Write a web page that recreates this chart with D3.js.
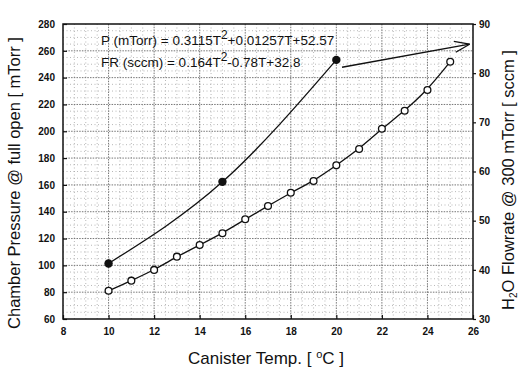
<!DOCTYPE html>
<html>
<head>
<meta charset="utf-8">
<script src="https://cdn.jsdelivr.net/npm/d3@7"></script>
<style>
  body { margin: 0; background: #fff; }
  svg { font-family: "Liberation Sans", Arial, sans-serif; }
  .tick-label { font-size: 10px; font-weight: bold; fill: #111; }
  .title { font-size: 16.5px; fill: #111; }
  .fit-text { font-size: 13.5px; fill: #111; }
</style>
</head>
<body>
<svg id="chart" width="520" height="372"></svg>
<script>
// canister temperature (C) and measured values
var tempFR = [10, 15, 20];
var flowRate = [41.3, 57.9, 82.7];          // sccm, right axis (filled dots)
var tempP = [10, 11, 12, 13, 14, 15, 16, 17, 18, 19, 20, 21, 22, 23, 24, 25];
var pressure = [81.1, 88.6, 96.6, 106.5, 115.2, 124.0, 134.4, 144.3, 154.2, 162.9, 174.6, 186.8, 201.9, 215.3, 230.8, 251.9]; // mTorr, left axis
var xTicks = [8, 10, 12, 14, 16, 18, 20, 22, 24, 26];
var yLeftTicks = [60, 80, 100, 120, 140, 160, 180, 200, 220, 240, 260, 280];
var yRightTicks = [30, 40, 50, 60, 70, 80, 90];
var fitLabels = [
  {pre: "P (mTorr) = 0.3115T", post: "+0.01257T+52.57"},
  {pre: "FR (sccm) = 0.164T", post: "-0.78T+32.8"}
];
// arrow from FR point towards right axis (T, sccm)
var arrowFrom = [20.25, 81.2], arrowTo = [25.85, 85.9];

const svg = d3.select('#chart');
const pLeft = 63, pRight = 473, pTop = 24, pBottom = 319;

const x = d3.scaleLinear().domain([8, 26]).range([pLeft, pRight]);
const yL = d3.scaleLinear().domain([60, 280]).range([pBottom, pTop]);
const yR = d3.scaleLinear().domain([30, 90]).range([pBottom, pTop]);

// dotted grid, minor then major
const grid = svg.append('g');
d3.range(8.5, 26, 0.5).forEach(v => {
  const major = v % 2 === 0;
  grid.append('line')
    .attr('x1', x(v)).attr('x2', x(v)).attr('y1', pTop).attr('y2', pBottom)
    .attr('stroke', major ? '#666' : '#999').attr('stroke-width', major ? 0.9 : 0.7)
    .attr('stroke-dasharray', major ? '1.5,1.2' : '1,2.5');
});
d3.range(65, 280, 5).forEach(v => {
  const major = v % 20 === 0;
  grid.append('line')
    .attr('x1', pLeft).attr('x2', pRight).attr('y1', yL(v)).attr('y2', yL(v))
    .attr('stroke', major ? '#666' : '#999').attr('stroke-width', major ? 0.9 : 0.7)
    .attr('stroke-dasharray', major ? '1.5,1.2' : '1,2.5');
});

// frame
svg.append('rect')
  .attr('x', pLeft).attr('y', pTop)
  .attr('width', pRight - pLeft).attr('height', pBottom - pTop)
  .attr('fill', 'none').attr('stroke', '#111').attr('stroke-width', 1.5);

// axes
svg.append('g')
  .attr('transform', `translate(0, ${pBottom})`)
  .call(d3.axisBottom(x).tickValues(xTicks).tickSize(-4).tickPadding(9).tickFormat(d3.format('d')))
  .call(g => g.select('.domain').remove())
  .call(g => g.selectAll('text').attr('class', 'tick-label'))
  .call(g => g.selectAll('line').attr('stroke', '#111').attr('stroke-width', 1.2));

svg.append('g')
  .attr('transform', `translate(${pLeft}, 0)`)
  .call(d3.axisLeft(yL).tickValues(yLeftTicks).tickSize(-4).tickPadding(8))
  .call(g => g.select('.domain').remove())
  .call(g => g.selectAll('text').attr('class', 'tick-label'))
  .call(g => g.selectAll('line').attr('stroke', '#111').attr('stroke-width', 1.2));

svg.append('g')
  .attr('transform', `translate(${pRight}, 0)`)
  .call(d3.axisRight(yR).tickValues(yRightTicks).tickSize(3).tickPadding(3))
  .call(g => g.select('.domain').remove())
  .call(g => g.selectAll('text').attr('class', 'tick-label'))
  .call(g => g.selectAll('line').attr('stroke', '#111').attr('stroke-width', 1.2));

// fitted curves
const lineFR = d3.line().x((d, i) => x(tempFR[i])).y(d => yR(d)).curve(d3.curveNatural);
const lineP = d3.line().x((d, i) => x(tempP[i])).y(d => yL(d)).curve(d3.curveBasis);

svg.append('path').attr('d', lineFR(flowRate))
  .attr('fill', 'none').attr('stroke', '#111').attr('stroke-width', 1.3);
svg.append('path').attr('d', lineP(pressure))
  .attr('fill', 'none').attr('stroke', '#111').attr('stroke-width', 1.3);

// points
svg.append('g').selectAll('circle')
  .data(flowRate).enter().append('circle')
  .attr('cx', (d, i) => x(tempFR[i])).attr('cy', d => yR(d))
  .attr('r', 4.2).attr('fill', '#111');

svg.append('g').selectAll('circle')
  .data(pressure).enter().append('circle')
  .attr('cx', (d, i) => x(tempP[i])).attr('cy', d => yL(d))
  .attr('r', 3.4).attr('fill', '#fff').attr('stroke', '#111').attr('stroke-width', 1.3);

// arrow
const ax1 = x(arrowFrom[0]), ay1 = yR(arrowFrom[1]);
const ax2 = x(arrowTo[0]), ay2 = yR(arrowTo[1]);
const ang = Math.atan2(ay2 - ay1, ax2 - ax1);
svg.append('line')
  .attr('x1', ax1).attr('y1', ay1).attr('x2', ax2).attr('y2', ay2)
  .attr('stroke', '#111').attr('stroke-width', 1.4);
[0.35, -0.35].forEach(a => {
  svg.append('line')
    .attr('x1', ax2).attr('y1', ay2)
    .attr('x2', ax2 - 16 * Math.cos(ang + a)).attr('y2', ay2 - 16 * Math.sin(ang + a))
    .attr('stroke', '#111').attr('stroke-width', 1.2);
});

// fit equations
fitLabels.forEach((f, i) => {
  const t = svg.append('text').attr('class', 'fit-text')
    .attr('x', 101).attr('y', 45 + i * 22);
  t.append('tspan').text(f.pre);
  t.append('tspan').attr('dy', -6).attr('font-size', '12px').text('2');
  t.append('tspan').attr('dy', 6).text(f.post);
});

// axis titles
svg.append('text')
  .attr('class', 'title')
  .attr('x', (pLeft + pRight) / 2 - 2).attr('y', 364)
  .attr('text-anchor', 'middle')
  .style('font-size', '17px')
  .html('Canister Temp. [ <tspan dy="-6" font-size="11px">o</tspan><tspan dy="6">C ]</tspan>');

svg.append('text')
  .attr('class', 'title')
  .attr('transform', 'rotate(-90)')
  .attr('x', -183).attr('y', 20)
  .attr('text-anchor', 'middle')
  .text('Chamber Pressure @ full open [ mTorr ]');

svg.append('text')
  .attr('class', 'title')
  .attr('transform', 'rotate(-90)')
  .attr('x', -180).attr('y', 514)
  .attr('text-anchor', 'middle')
  .html('H<tspan dy="3" font-size="10px">2</tspan><tspan dy="-3">O Flowrate @ 300 mTorr [ sccm ]</tspan>');
</script>
</body>
</html>
